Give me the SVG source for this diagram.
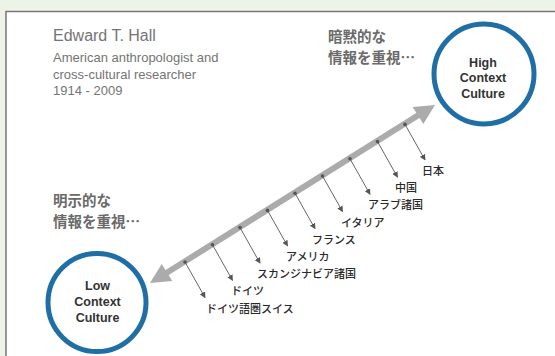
<svg xmlns="http://www.w3.org/2000/svg" width="555" height="356" viewBox="0 0 555 356">
<defs>
<style>
.en{font-family:"Liberation Sans",Arial,sans-serif;fill:#747474}
.ja{font-family:"Noto Sans CJK JP","Noto Sans",sans-serif}
.head{font-size:14.5px;font-weight:bold;fill:#6a6a6a}
.lbl{font-size:11px;font-weight:500;fill:#2a2a2a}
.ring{fill:#fff;stroke:#1f6fa6;stroke-width:5}
.ctxt{font-family:"Liberation Sans",Arial,sans-serif;font-size:12.5px;font-weight:bold;fill:#333;text-anchor:middle}
.tick{stroke:#555;stroke-width:0.9;fill:none;marker-end:url(#ah)}
.dot{fill:#555}
</style>
<marker id="ah" viewBox="0 0 8 8" refX="7" refY="4" markerWidth="6" markerHeight="6" markerUnits="userSpaceOnUse" orient="auto">
<path d="M0,0 L8,4 L0,8 z" fill="#555"/>
</marker>
</defs>
<rect x="0" y="0" width="555" height="356" fill="#eef3e8"/>
<rect x="6" y="11.5" width="560" height="360" fill="#fff" stroke="#777" stroke-width="1.5"/>

<g id="title">
<text class="en" x="53" y="41" font-size="16">Edward T. Hall</text>
<text class="en" x="53" y="62" font-size="13">American anthropologist and</text>
<text class="en" x="53" y="78.5" font-size="13">cross-cultural researcher</text>
<text class="en" x="53" y="95" font-size="13">1914 - 2009</text>
</g>

<g id="high-note">
<text class="ja head" x="328" y="42">暗黙的な</text>
<text class="ja head" x="328" y="62.5">情報を重視…</text>
</g>
<g id="low-note">
<text class="ja head" x="53" y="206">明示的な</text>
<text class="ja head" x="53" y="227">情報を重視…</text>
</g>

<g id="connectors">
<line x1="160" y1="277" x2="425" y2="111" stroke="#ababab" stroke-width="6"/>
<polygon points="150,283 161.7,263.9 172.3,280.9" fill="#ababab"/>
<polygon points="435,105 412.7,107.1 423.3,124.1" fill="#ababab"/>
<g>
<line class="tick" x1="185" y1="262" x2="205" y2="297.5"/>
<line class="tick" x1="212.5" y1="244.8" x2="232.5" y2="280.3"/>
<line class="tick" x1="240" y1="227.6" x2="260" y2="263.1"/>
<line class="tick" x1="267.5" y1="210.4" x2="287.5" y2="245.9"/>
<line class="tick" x1="295" y1="193.2" x2="315" y2="228.7"/>
<line class="tick" x1="322.5" y1="176" x2="342.5" y2="211.5"/>
<line class="tick" x1="350" y1="158.8" x2="370" y2="194.3"/>
<line class="tick" x1="377.5" y1="141.6" x2="397.5" y2="177.1"/>
<line class="tick" x1="405" y1="124.4" x2="425" y2="159.9"/>
</g>
<g>
<circle class="dot" cx="185" cy="262" r="1.8"/>
<circle class="dot" cx="212.5" cy="244.8" r="1.8"/>
<circle class="dot" cx="240" cy="227.6" r="1.8"/>
<circle class="dot" cx="267.5" cy="210.4" r="1.8"/>
<circle class="dot" cx="295" cy="193.2" r="1.8"/>
<circle class="dot" cx="322.5" cy="176" r="1.8"/>
<circle class="dot" cx="350" cy="158.8" r="1.8"/>
<circle class="dot" cx="377.5" cy="141.6" r="1.8"/>
<circle class="dot" cx="405" cy="124.4" r="1.8"/>
</g>
</g>

<g id="labels">
<text class="ja lbl" x="206" y="312.5">ドイツ語圏スイス</text>
<text class="ja lbl" x="231" y="295.3">ドイツ</text>
<text class="ja lbl" x="257" y="278.1">スカンジナビア諸国</text>
<text class="ja lbl" x="286" y="260.9">アメリカ</text>
<text class="ja lbl" x="312" y="243.7">フランス</text>
<text class="ja lbl" x="341" y="226.5">イタリア</text>
<text class="ja lbl" x="368" y="209.3">アラブ諸国</text>
<text class="ja lbl" x="395" y="192.1">中国</text>
<text class="ja lbl" x="422" y="174.5">日本</text>
</g>

<g id="high-context">
<circle class="ring" cx="484" cy="74" r="50"/>
<text class="ctxt" x="483" y="66.5">High</text>
<text class="ctxt" x="483" y="82">Context</text>
<text class="ctxt" x="483" y="97.5">Culture</text>
</g>

<g id="low-context">
<circle class="ring" cx="97" cy="302.5" r="49"/>
<text class="ctxt" x="97.5" y="290">Low</text>
<text class="ctxt" x="97.5" y="306">Context</text>
<text class="ctxt" x="97.5" y="322">Culture</text>
</g>
</svg>
